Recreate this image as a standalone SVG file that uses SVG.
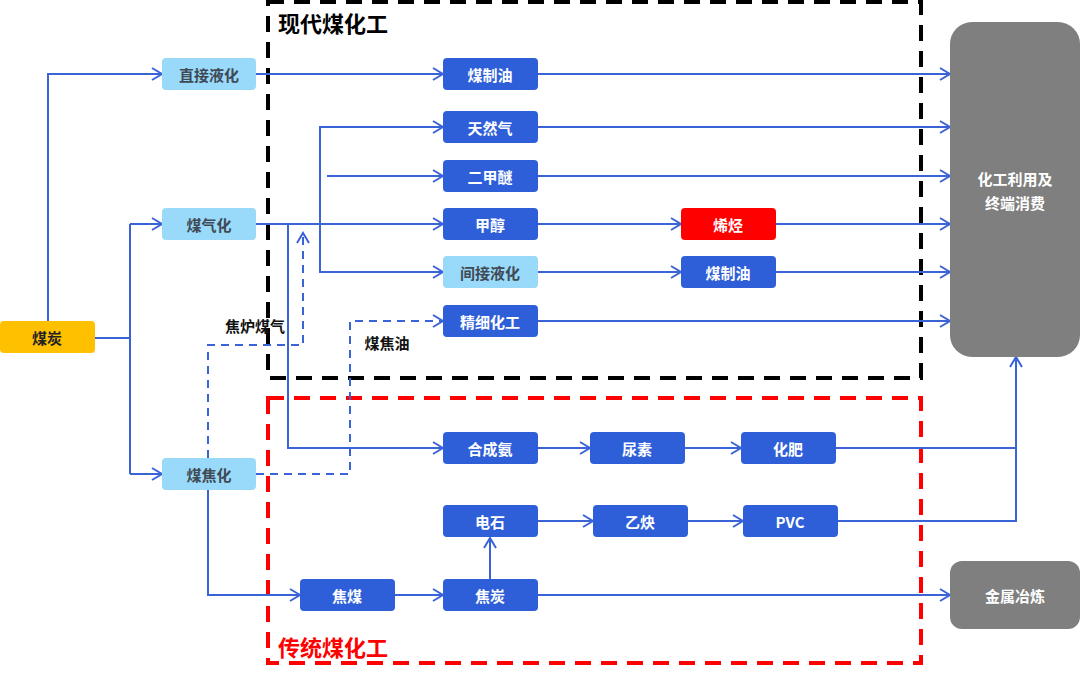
<svg xmlns="http://www.w3.org/2000/svg" width="1080" height="681" viewBox="0 0 1080 681">
<style>
text{font-family:"Noto Sans CJK SC","Noto Sans",sans-serif;font-weight:bold;text-anchor:middle;dominant-baseline:central}
.d rect{fill:#2F5FD8}.d text{fill:#fff;font-size:15px}
.l rect{fill:#99D9F9}.l text{fill:#3F4A55;font-size:15px}
.c{fill:none;stroke:#3A63D8;stroke-width:2}
.dash{stroke-dasharray:8 6}
</style>
<defs><marker id="a" markerWidth="14" markerHeight="14" refX="11" refY="7" orient="auto" markerUnits="userSpaceOnUse"><path d="M1,1 L11,7 L1,13" fill="none" stroke="#3A63D8" stroke-width="2"/></marker></defs>
<rect x="268" y="2" width="653" height="376" fill="none" stroke="#000" stroke-width="4" stroke-dasharray="16 10"/>
<rect x="268" y="398" width="653" height="265" fill="none" stroke="#F00" stroke-width="4" stroke-dasharray="16 10"/>
<text x="333" y="22" style="font-size:22px;fill:#000">现代煤化工</text>
<text x="333" y="646" style="font-size:22px;fill:#F00">传统煤化工</text>
<g id="connectors" class="c">
<path d="M48,321 V74 H162" marker-end="url(#a)"/>
<path d="M95,338 H130"/>
<path d="M130,224 V474"/>
<path d="M130,224 H162" marker-end="url(#a)"/>
<path d="M130,474 H162" marker-end="url(#a)"/>
<path d="M256,74 H443" marker-end="url(#a)"/>
<path d="M256,224 H443" marker-end="url(#a)"/>
<path d="M288,224 V448 H443" marker-end="url(#a)"/>
<path d="M443,127 H320 V272 H443" marker-end="url(#a)"/>
<path d="M320,127 H443" marker-end="url(#a)"/>
<path d="M327,176 H443" marker-end="url(#a)"/>
<path class="dash" d="M256,474 H350 V321 H443" marker-end="url(#a)"/>
<path class="dash" d="M208,458 V345 H303 V233" marker-end="url(#a)"/>
<path d="M208,490 V595 H300" marker-end="url(#a)"/>
<path d="M395,595 H443" marker-end="url(#a)"/>
<path d="M538,595 H950" marker-end="url(#a)"/>
<path d="M490,579 V538" marker-end="url(#a)"/>
<path d="M538,521 H593" marker-end="url(#a)"/>
<path d="M688,521 H743" marker-end="url(#a)"/>
<path d="M838,521 H1016 V357" marker-end="url(#a)"/>
<path d="M836,448 H1016"/>
<path d="M538,448 H590" marker-end="url(#a)"/>
<path d="M685,448 H741" marker-end="url(#a)"/>
<path d="M538,74 H950" marker-end="url(#a)"/>
<path d="M538,127 H950" marker-end="url(#a)"/>
<path d="M538,176 H950" marker-end="url(#a)"/>
<path d="M538,224 H681" marker-end="url(#a)"/>
<path d="M776,224 H950" marker-end="url(#a)"/>
<path d="M538,272 H681" marker-end="url(#a)"/>
<path d="M776,272 H950" marker-end="url(#a)"/>
<path d="M538,321 H950" marker-end="url(#a)"/>
</g>
<text x="255" y="325" style="font-size:15px;fill:#111">焦炉煤气</text>
<text x="387" y="342" style="font-size:15px;fill:#111">煤焦油</text>
<g id="meitan"><rect x="0" y="321" width="95" height="32" rx="4" fill="#FFC000"/><text x="47" y="337" style="font-size:15px;fill:#222">煤炭</text></g>
<g id="zhijie" class="l"><rect x="162" y="58" width="94" height="32" rx="4"/><text x="209" y="74">直接液化</text></g>
<g id="meiqihua" class="l"><rect x="162" y="208" width="94" height="32" rx="4"/><text x="209" y="224">煤气化</text></g>
<g id="meijiaohua" class="l"><rect x="162" y="458" width="94" height="32" rx="4"/><text x="209" y="474">煤焦化</text></g>
<g id="meizhiyou1" class="d"><rect x="443" y="58" width="95" height="32" rx="4"/><text x="490" y="74">煤制油</text></g>
<g id="tianranqi" class="d"><rect x="443" y="111" width="95" height="32" rx="4"/><text x="490" y="127">天然气</text></g>
<g id="erjiami" class="d"><rect x="443" y="160" width="95" height="32" rx="4"/><text x="490" y="176">二甲醚</text></g>
<g id="jiachun" class="d"><rect x="443" y="208" width="95" height="32" rx="4"/><text x="490" y="224">甲醇</text></g>
<g id="jianjie" class="l"><rect x="443" y="256" width="95" height="32" rx="4"/><text x="490" y="272">间接液化</text></g>
<g id="jingxi" class="d"><rect x="443" y="305" width="95" height="32" rx="4"/><text x="490" y="321">精细化工</text></g>
<g id="xiting" class="d"><rect x="681" y="208" width="95" height="32" rx="4" style="fill:#F00"/><text x="728" y="224">烯烃</text></g>
<g id="meizhiyou2" class="d"><rect x="681" y="256" width="95" height="32" rx="4"/><text x="728" y="272">煤制油</text></g>
<g id="hechengan" class="d"><rect x="443" y="432" width="95" height="32" rx="4"/><text x="490" y="448">合成氨</text></g>
<g id="niaosu" class="d"><rect x="590" y="432" width="95" height="32" rx="4"/><text x="637" y="448">尿素</text></g>
<g id="huafei" class="d"><rect x="741" y="432" width="95" height="32" rx="4"/><text x="788" y="448">化肥</text></g>
<g id="dianshi" class="d"><rect x="443" y="505" width="95" height="32" rx="4"/><text x="490" y="521">电石</text></g>
<g id="yique" class="d"><rect x="593" y="505" width="95" height="32" rx="4"/><text x="640" y="521">乙炔</text></g>
<g id="pvc" class="d"><rect x="743" y="505" width="95" height="32" rx="4"/><text x="790" y="521">PVC</text></g>
<g id="jiaomei" class="d"><rect x="300" y="579" width="95" height="32" rx="4"/><text x="347" y="595">焦煤</text></g>
<g id="jiaotan" class="d"><rect x="443" y="579" width="95" height="32" rx="4"/><text x="490" y="595">焦炭</text></g>
<g id="huagong"><rect x="950" y="22" width="130" height="335" rx="22" fill="#7F7F7F"/><text x="1015" y="178" style="font-size:15px;fill:#fff">化工利用及</text><text x="1015" y="202" style="font-size:15px;fill:#fff">终端消费</text></g>
<g id="jinshu"><rect x="950" y="561" width="130" height="68" rx="12" fill="#7F7F7F"/><text x="1015" y="595" style="font-size:15px;fill:#fff">金属冶炼</text></g>
</svg>
